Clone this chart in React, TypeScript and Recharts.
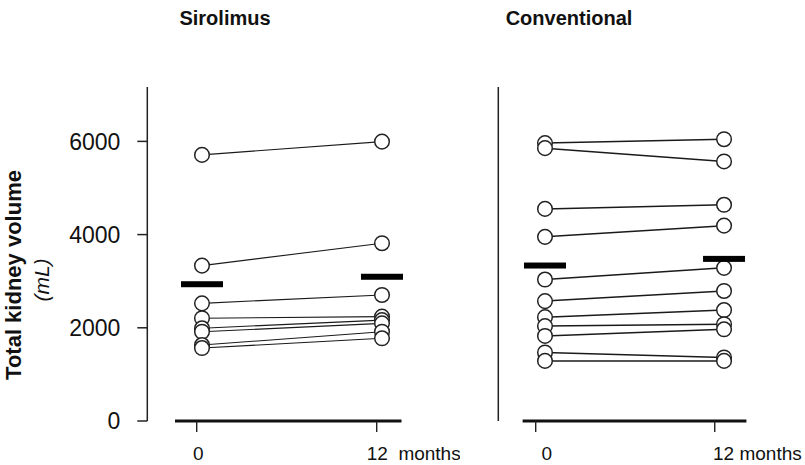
import React from 'react';
import { LineChart, Line, XAxis, YAxis, ReferenceLine } from 'recharts';

const FONT = '"Liberation Sans", Arial, Helvetica, sans-serif';

const months = [0, 12];
const yTicks = [0, 2000, 4000, 6000];

// Sirolimus: one value per patient (mL)
const siroBaseline = [5710, 3335, 2525, 2205, 1990, 1915, 1630, 1565];
const siroMonth12 = [5995, 3815, 2705, 2240, 2165, 2095, 1915, 1775];
const siroMean = [2935, 3095];
const siroTickLabels = ['0', '12  months'];

// Conventional
const convBaseline = [6060, 5950, 4625, 4015, 3085, 2615, 2265, 2070, 1855, 1495, 1310];
const convMonth12 = [6145, 5660, 4715, 4260, 3340, 2835, 2420, 2110, 2000, 1385, 1310];
const convMean = [3390, 3535];
const convTickLabels = ['0', '12 months'];

function buildRows(base: number[], m12: number[], mean: number[]) {
  return months.map((m, i) => {
    const row: any = { month: m, mean: mean[i] };
    (i === 0 ? base : m12).forEach((v, k) => {
      row['p' + k] = v;
    });
    return row;
  });
}

function MonthTick(props: any) {
  const { x, y, payload, labels, tickDx, labelDx } = props;
  const first = payload.value === 0;
  return (
    <g>
      <line x1={x + tickDx} x2={x + tickDx} y1={y} y2={y + 11} stroke="#222" strokeWidth={1.4} />
      <text
        x={x + labelDx[first ? 0 : 1]}
        y={y + 39}
        textAnchor={first ? 'middle' : 'start'}
        fontSize={19}
        fill="#111"
        fontFamily={FONT}
        style={{ whiteSpace: 'pre' }}
      >
        {labels[first ? 0 : 1]}
      </text>
    </g>
  );
}

function MeanBar(props: any) {
  const { cx, cy } = props;
  if (cx == null || cy == null) return null;
  return <rect x={cx - 21} y={cy - 3} width={42} height={6} fill="#000" />;
}

type PanelProps = {
  rows: any[];
  count: number;
  pageLeft: number;
  width: number;
  plotLeft: number;
  plotRight: number;
  x0: number;
  pxPerMonth: number;
  yMax: number;
  yAxisWidth: number;
  showYLabels: boolean;
  labels: string[];
  tickDx: number;
  labelDx: number[];
  axisSpan: number[];
  lineWidth: number;
};

function Panel(p: PanelProps) {
  const xMin = (p.plotLeft - p.x0) / p.pxPerMonth;
  const xMax = (p.plotRight - p.x0) / p.pxPerMonth;
  const keys = Array.from({ length: p.count }, (_, k) => 'p' + k);
  return (
    <div style={{ position: 'absolute', left: p.pageLeft, top: 0 }}>
      <LineChart
        width={p.width}
        height={465}
        data={p.rows}
        margin={{
          top: 87,
          right: p.pageLeft + p.width - p.plotRight,
          bottom: 0,
          left: p.plotLeft - p.pageLeft - p.yAxisWidth,
        }}
      >
        <XAxis
          dataKey="month"
          type="number"
          domain={[xMin, xMax]}
          ticks={months}
          height={44}
          axisLine={false}
          tickLine={false}
          tickSize={0}
          tickMargin={0}
          interval={0}
          tick={(t: any) => (
            <MonthTick {...t} labels={p.labels} tickDx={p.tickDx} labelDx={p.labelDx} />
          )}
        />
        <YAxis
          type="number"
          domain={[0, p.yMax]}
          ticks={yTicks}
          width={p.yAxisWidth}
          interval={0}
          axisLine={{ stroke: '#222', strokeWidth: 1.5 }}
          tickLine={{ stroke: '#222', strokeWidth: 1.5 }}
          tickSize={10}
          tickMargin={17}
          tick={p.showYLabels ? { fontSize: 23, fill: '#111', fontFamily: FONT } : false}
        />
        <ReferenceLine
          segment={[
            { x: p.axisSpan[0], y: 0 },
            { x: p.axisSpan[1], y: 0 },
          ]}
          stroke="#111"
          strokeWidth={3}
          ifOverflow="visible"
        />
        {keys.map((k) => (
          <Line
            key={'l' + k}
            dataKey={k}
            stroke="#1a1a1a"
            strokeWidth={p.lineWidth}
            dot={false}
            activeDot={false}
            isAnimationActive={false}
          />
        ))}
        {keys.map((k) => (
          <Line
            key={'d' + k}
            dataKey={k}
            stroke="none"
            strokeWidth={0}
            dot={{ r: 7.3, fill: '#fff', stroke: '#222', strokeWidth: 1.5 }}
            activeDot={false}
            isAnimationActive={false}
          />
        ))}
        <Line
          dataKey="mean"
          stroke="none"
          strokeWidth={0}
          dot={(d: any) => <MeanBar key={'m' + d.index} {...d} />}
          activeDot={false}
          isAnimationActive={false}
        />
      </LineChart>
    </div>
  );
}

export default function App() {
  return (
    <div
      style={{
        position: 'absolute',
        left: 0,
        top: 0,
        width: 805,
        height: 465,
        background: '#fff',
        fontFamily: FONT,
        overflow: 'hidden',
      }}
    >
      <svg width={805} height={465} style={{ position: 'absolute', left: 0, top: 0 }}>
        <text x={225} y={25} textAnchor="middle" fontSize={20} fontWeight="bold" fill="#111" fontFamily={FONT}>
          Sirolimus
        </text>
        <text x={569} y={25} textAnchor="middle" fontSize={20} fontWeight="bold" fill="#111" fontFamily={FONT}>
          Conventional
        </text>
        <text
          x={21}
          y={275}
          transform="rotate(-90 21 275)"
          textAnchor="middle"
          fontSize={22}
          fontWeight="bold"
          fill="#111"
          fontFamily={FONT}
        >
          Total kidney volume
        </text>
        <text
          x={48.5}
          y={280}
          transform="rotate(-90 48.5 280)"
          textAnchor="middle"
          fontSize={21}
          fontStyle="italic"
          fill="#111"
          fontFamily={FONT}
        >
          (mL)
        </text>
      </svg>
      <Panel
        rows={buildRows(siroBaseline, siroMonth12, siroMean)}
        count={siroBaseline.length}
        pageLeft={0}
        width={460}
        plotLeft={147.3}
        plotRight={440}
        x0={202}
        pxPerMonth={15}
        yMax={7167}
        yAxisWidth={80}
        showYLabels
        labels={siroTickLabels}
        tickDx={-5.3}
        labelDx={[-3.7, -15.3]}
        axisSpan={[-1.8, 13.3]}
        lineWidth={1.1}
      />
      <Panel
        rows={buildRows(convBaseline, convMonth12, convMean)}
        count={convBaseline.length}
        pageLeft={460}
        width={345}
        plotLeft={498.3}
        plotRight={795}
        x0={545}
        pxPerMonth={14.92}
        yMax={7283}
        yAxisWidth={20}
        showYLabels={false}
        labels={convTickLabels}
        tickDx={-9.3}
        labelDx={[1.7, -11]}
        axisSpan={[-1.5, 13.5]}
        lineWidth={1.5}
      />
    </div>
  );
}
